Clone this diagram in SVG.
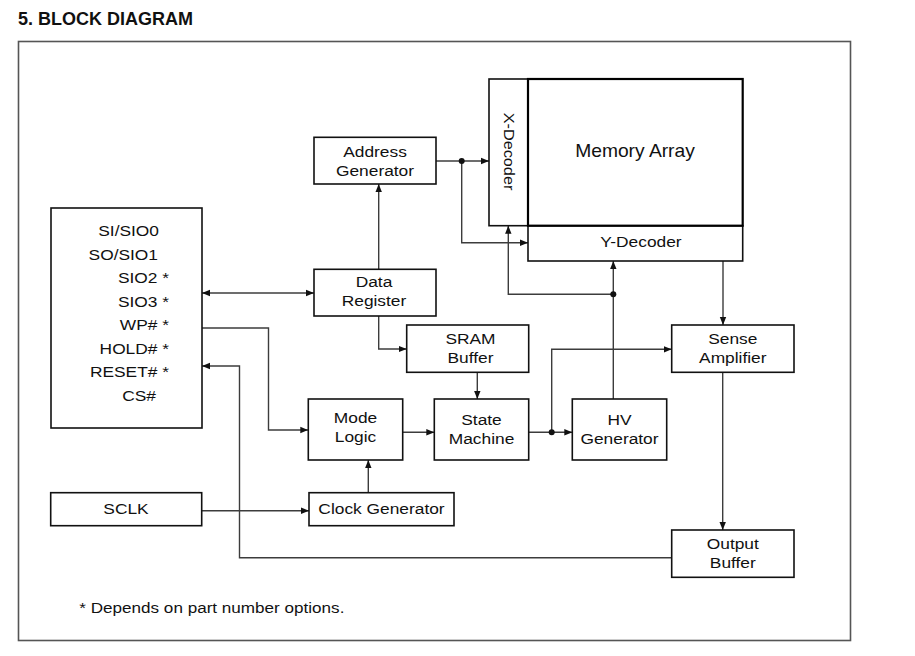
<svg xmlns="http://www.w3.org/2000/svg" width="915" height="656" viewBox="0 0 915 656">
<style>
  .bx { fill: #fff; stroke: #111; stroke-width: 1.6; }
  .ma { fill: #fff; stroke: #000; stroke-width: 2.2; }
  .t { font-family: "Liberation Sans", Arial, sans-serif; font-size: 15.5px; fill: #111; text-anchor: middle; }
  .tl { font-family: "Liberation Sans", Arial, sans-serif; font-size: 15.5px; fill: #111; text-anchor: end; }
  .c { fill: none; stroke: #3c3c3c; stroke-width: 1.4; }
  .dot { fill: #111; }
</style>
<defs>
  <marker id="ah" viewBox="0 0 10 10" refX="10" refY="5" markerWidth="8" markerHeight="8" markerUnits="userSpaceOnUse" orient="auto-start-reverse">
    <path d="M0,1 L10,5 L0,9 z" fill="#111"/>
  </marker>
</defs>
<rect width="915" height="656" fill="#fff"/>
<text x="18" y="25" font-family="Liberation Sans, Arial, sans-serif" font-size="18" font-weight="bold" fill="#111">5. BLOCK DIAGRAM</text>
<rect x="18.5" y="41.5" width="832" height="599" fill="none" stroke="#555" stroke-width="1.6"/>

<g id="connectors">
  <path class="c" d="M202,293 H314" marker-start="url(#ah)" marker-end="url(#ah)"/>
  <path class="c" d="M202,328 H268.5 V430 H308.3" marker-end="url(#ah)"/>
  <path class="c" d="M671.7,557.7 H239.5 V366 H202" marker-end="url(#ah)"/>
  <path class="c" d="M201.7,510.7 H309" marker-end="url(#ah)"/>
  <path class="c" d="M368.3,492.7 V460" marker-end="url(#ah)"/>
  <path class="c" d="M378.7,269 V184" marker-end="url(#ah)"/>
  <path class="c" d="M378.7,316 V349 H406.7" marker-end="url(#ah)"/>
  <path class="c" d="M477.3,372.3 V399" marker-end="url(#ah)"/>
  <path class="c" d="M402.7,432.3 H434.3" marker-end="url(#ah)"/>
  <path class="c" d="M528.7,432.3 H572.3" marker-end="url(#ah)"/>
  <path class="c" d="M551.7,432.3 V349.3 H671.7" marker-end="url(#ah)"/>
  <path class="c" d="M613.3,399 V261" marker-end="url(#ah)"/>
  <path class="c" d="M613.3,294.3 H508.3 V225.7" marker-end="url(#ah)"/>
  <path class="c" d="M436,161 H489" marker-end="url(#ah)"/>
  <path class="c" d="M461.7,161 V242.7 H528" marker-end="url(#ah)"/>
  <path class="c" d="M723,261 V325" marker-end="url(#ah)"/>
  <path class="c" d="M722.7,372.3 V530" marker-end="url(#ah)"/>
  <circle class="dot" cx="461.7" cy="161" r="3"/>
  <circle class="dot" cx="613.3" cy="294.3" r="3"/>
  <circle class="dot" cx="551.7" cy="432.3" r="3"/>
</g>

<g id="pins">
  <rect class="bx" x="51" y="208" width="151" height="220"/>
  <text class="tl" transform="translate(159,236) scale(1.12,1)">SI/SIO0</text>
  <text class="tl" transform="translate(158,259.5) scale(1.12,1)">SO/SIO1</text>
  <text class="tl" transform="translate(169,283) scale(1.12,1)">SIO2 *</text>
  <text class="tl" transform="translate(169,306.5) scale(1.12,1)">SIO3 *</text>
  <text class="tl" transform="translate(169,330) scale(1.12,1)">WP# *</text>
  <text class="tl" transform="translate(169,353.5) scale(1.12,1)">HOLD# *</text>
  <text class="tl" transform="translate(169,377) scale(1.12,1)">RESET# *</text>
  <text class="tl" transform="translate(156,400.5) scale(1.12,1)">CS#</text>
</g>

<g id="sclk">
  <rect class="bx" x="50.7" y="492.7" width="151" height="33"/>
  <text class="t" transform="translate(126,513.5) scale(1.12,1)">SCLK</text>
</g>

<g id="address-generator">
  <rect class="bx" x="314" y="137.3" width="122" height="46.7"/>
  <text class="t" transform="translate(375,156.7) scale(1.12,1)">Address</text>
  <text class="t" transform="translate(375,175.5) scale(1.12,1)">Generator</text>
</g>

<g id="data-register">
  <rect class="bx" x="314" y="269.3" width="122" height="46.7"/>
  <text class="t" transform="translate(374,287) scale(1.12,1)">Data</text>
  <text class="t" transform="translate(374,306) scale(1.12,1)">Register</text>
</g>

<g id="sram-buffer">
  <rect class="bx" x="406.7" y="325" width="122" height="47.3"/>
  <text class="t" transform="translate(470.5,344.3) scale(1.12,1)">SRAM</text>
  <text class="t" transform="translate(470.5,363.3) scale(1.12,1)">Buffer</text>
</g>

<g id="mode-logic">
  <rect class="bx" x="308.3" y="399" width="94.4" height="61"/>
  <text class="t" transform="translate(355.5,423.3) scale(1.12,1)">Mode</text>
  <text class="t" transform="translate(355.5,442.3) scale(1.12,1)">Logic</text>
</g>

<g id="state-machine">
  <rect class="bx" x="434.3" y="399" width="94.4" height="61"/>
  <text class="t" transform="translate(481.5,425) scale(1.12,1)">State</text>
  <text class="t" transform="translate(481.5,444) scale(1.12,1)">Machine</text>
</g>

<g id="hv-generator">
  <rect class="bx" x="572.3" y="399" width="94.4" height="61"/>
  <text class="t" transform="translate(619.5,425) scale(1.12,1)">HV</text>
  <text class="t" transform="translate(619.5,444) scale(1.12,1)">Generator</text>
</g>

<g id="clock-generator">
  <rect class="bx" x="309" y="492.7" width="145" height="33"/>
  <text class="t" transform="translate(381.5,513.5) scale(1.12,1)">Clock Generator</text>
</g>

<g id="sense-amplifier">
  <rect class="bx" x="671.7" y="325" width="122.3" height="47.3"/>
  <text class="t" transform="translate(732.8,344.3) scale(1.12,1)">Sense</text>
  <text class="t" transform="translate(732.8,363.3) scale(1.12,1)">Amplifier</text>
</g>

<g id="output-buffer">
  <rect class="bx" x="671.7" y="530" width="122.3" height="47.3"/>
  <text class="t" transform="translate(732.8,549) scale(1.12,1)">Output</text>
  <text class="t" transform="translate(732.8,567.7) scale(1.12,1)">Buffer</text>
</g>

<g id="x-decoder">
  <rect class="bx" x="489" y="79" width="39" height="146.7"/>
  <text class="t" transform="translate(504,151.5) rotate(90) scale(1.05,1)">X-Decoder</text>
</g>

<g id="y-decoder">
  <rect class="bx" x="528" y="225.7" width="214.7" height="35.3"/>
  <text class="t" transform="translate(641,246.7) scale(1.12,1)">Y-Decoder</text>
</g>

<g id="memory-array">
  <rect class="ma" x="528" y="79" width="214.7" height="146.7"/>
  <text class="t" style="font-size:17.5px" transform="translate(635,156.7) scale(1.1,1)">Memory Array</text>
</g>

<text x="0" y="0" font-family="Liberation Sans, Arial, sans-serif" font-size="15" fill="#111" transform="translate(79.3,612.7) scale(1.14,1)">* Depends on part number options.</text>
</svg>
